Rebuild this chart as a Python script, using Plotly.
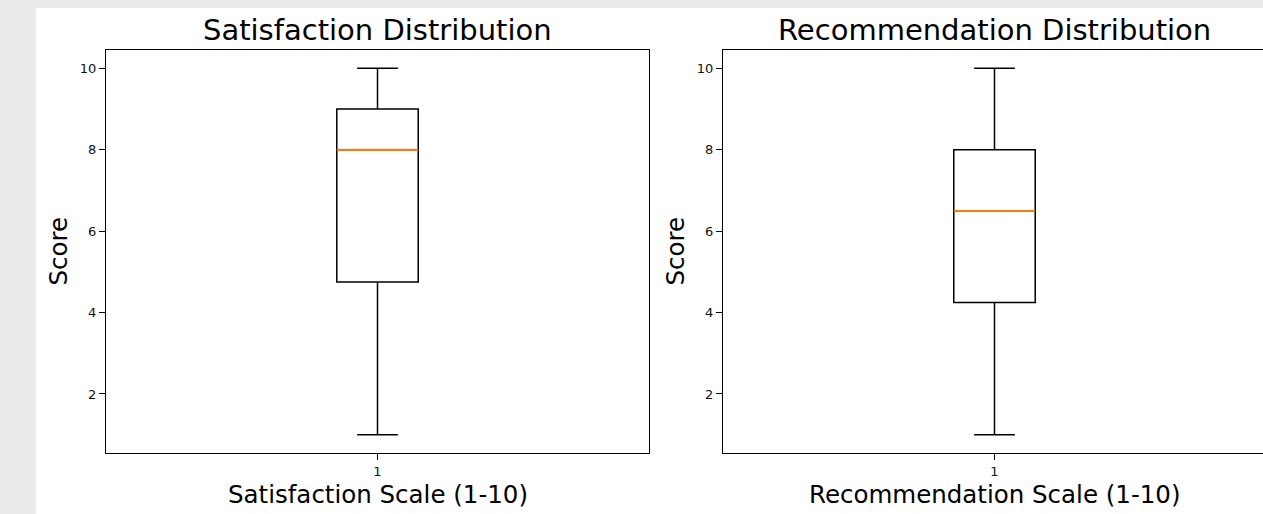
import plotly.graph_objects as go

# ---- data ----
panels = ["Satisfaction", "Recommendation"]
positions = [1]
tick_labels = ["1"]
y_ticks = [2, 4, 6, 8, 10]

sat_low = [1]
sat_q1 = [4.75]
sat_median = [8]
sat_q3 = [9]
sat_high = [10]

rec_low = [1]
rec_q1 = [4.25]
rec_median = [6.5]
rec_q3 = [8]
rec_high = [10]

titles = ["Satisfaction Distribution", "Recommendation Distribution"]
x_titles = ["Satisfaction Scale (1-10)", "Recommendation Scale (1-10)"]
y_title = "Score"

# ---- layout constants (pixels) ----
W, H = 1263, 514
FONT = "DejaVu Sans"
BOX_W = 0.15


def px(x):
    return x / W


def py(y):
    return 1 - y / H


ax_top, ax_bot = 50, 453
left_ax = (106, 649)
right_ax = (723, 1266)
ax_w = left_ax[1] - left_ax[0]

fig = go.Figure()

stats = [
    (sat_low, sat_q1, sat_median, sat_q3, sat_high),
    (rec_low, rec_q1, rec_median, rec_q3, rec_high),
]
for i, (lo, q1, med, q3, hi) in enumerate(stats):
    xa = "x" if i == 0 else "x2"
    ya = "y" if i == 0 else "y2"
    fig.add_trace(go.Box(
        x=positions, q1=q1, median=med, q3=q3, lowerfence=lo, upperfence=hi,
        width=BOX_W, whiskerwidth=0.5, boxpoints=False,
        line=dict(color="black", width=1.5), fillcolor="rgba(0,0,0,0)",
        xaxis=xa, yaxis=ya, showlegend=False, hoverinfo="skip",
    ))
    for p, m in zip(positions, med):
        fig.add_trace(go.Scatter(
            x=[p - BOX_W / 2, p + BOX_W / 2], y=[m, m], mode="lines",
            line=dict(color="#ff7f0e", width=1.8),
            xaxis=xa, yaxis=ya, showlegend=False, hoverinfo="skip",
        ))

axis_common = dict(
    showgrid=False, zeroline=False, showline=True, linecolor="black", linewidth=1.2,
    ticks="outside", ticklen=6, tickwidth=1.2, tickcolor="black",
    tickfont=dict(family=FONT, size=13, color="#111111"),
)

ydom = [py(ax_bot), py(ax_top)]
yr = [0.55, 10.45]

fig.update_layout(
    width=W, height=H,
    margin=dict(l=0, r=0, t=0, b=0),
    paper_bgcolor="#ebebeb", plot_bgcolor="white",
    xaxis=dict(domain=[px(left_ax[0]), px(left_ax[1])], range=[0.5, 1.5],
               tickvals=positions, ticktext=tick_labels, mirror=True, anchor="y", **axis_common),
    yaxis=dict(domain=ydom, range=yr, tickvals=y_ticks, mirror=True, anchor="x", **axis_common),
    xaxis2=dict(domain=[px(right_ax[0]), 1.0],
                range=[0.5, 0.5 + (W - right_ax[0]) / ax_w],
                tickvals=positions, ticktext=tick_labels, mirror=True, anchor="y2", **axis_common),
    yaxis2=dict(domain=ydom, range=yr, tickvals=y_ticks, mirror=False, anchor="x2", **axis_common),
    shapes=[dict(type="rect", xref="paper", yref="paper", x0=px(36), x1=1, y0=0, y1=py(8),
                 fillcolor="white", line=dict(width=0), layer="below")],
)

centers = [(left_ax[0] + left_ax[1]) / 2, (right_ax[0] + right_ax[1]) / 2]
ylab_x = [58, 675]
for i in range(2):
    fig.add_annotation(text=titles[i], x=px(centers[i]), y=py(30), xref="paper", yref="paper",
                       xanchor="center", yanchor="middle", showarrow=False,
                       font=dict(family=FONT, size=29, color="black"))
    fig.add_annotation(text=x_titles[i], x=px(centers[i]), y=py(494), xref="paper", yref="paper",
                       xanchor="center", yanchor="middle", showarrow=False,
                       font=dict(family=FONT, size=24.5, color="black"))
    fig.add_annotation(text=y_title, x=px(ylab_x[i]), y=py((ax_top + ax_bot) / 2), xref="paper",
                       yref="paper", xanchor="center", yanchor="middle", textangle=-90,
                       showarrow=False, font=dict(family=FONT, size=24.5, color="black"))

fig.write_html("out.html", config={"displayModeBar": False},
               post_script="document.body.style.margin='0';document.body.style.overflow='hidden';")
